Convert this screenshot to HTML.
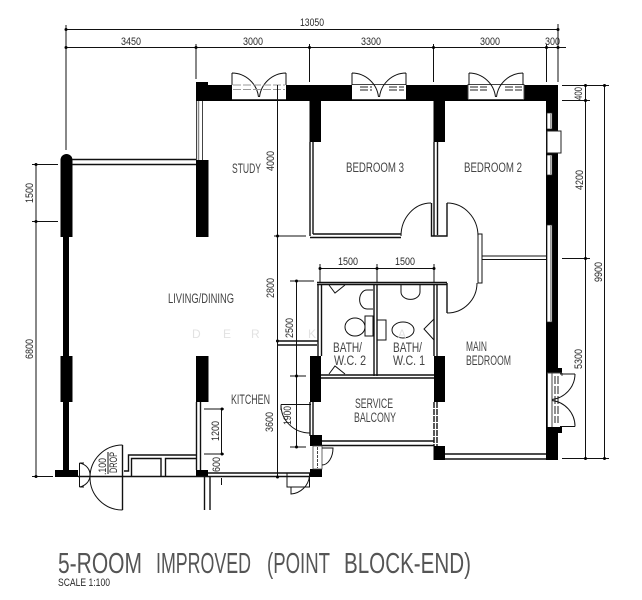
<!DOCTYPE html>
<html>
<head>
<meta charset="utf-8">
<style>
html,body{margin:0;padding:0;background:#fff;width:642px;height:600px;overflow:hidden}
svg{display:block;filter:blur(0.35px)}
text{font-family:"Liberation Sans",sans-serif;fill:#2a2a2a}
.l{stroke:#111;stroke-width:1;fill:none}
.m{stroke:#111;stroke-width:1.4;fill:none}
.g{stroke:#444;stroke-width:1;fill:none}
.b{fill:#000}
.w{fill:#fff;stroke:#222;stroke-width:1}
.t text{fill:#444}
</style>
</head>
<body>
<svg width="642" height="600" viewBox="0 0 642 600" xmlns="http://www.w3.org/2000/svg">
<!-- top dims -->
<path class="l" d="M66 29.5H558M66 47.5H566M66 25V150M196 44V79M309.5 44V82M433.5 44V82M546.5 44V82M558 24V82"/>
<g class="b"><circle cx="66" cy="29.5" r="1.5"/><circle cx="66" cy="47.5" r="1.5"/><circle cx="196" cy="47.5" r="1.5"/><circle cx="309.5" cy="47.5" r="1.5"/><circle cx="433.5" cy="47.5" r="1.5"/><circle cx="546.5" cy="47.5" r="1.5"/><circle cx="558" cy="47.5" r="1.5"/><circle cx="558" cy="29.5" r="1.5"/></g>
<g font-size="11">
<text x="300" y="26" textLength="24" lengthAdjust="spacingAndGlyphs">13050</text>
<text x="121" y="45" textLength="20" lengthAdjust="spacingAndGlyphs">3450</text>
<text x="243" y="45" textLength="20" lengthAdjust="spacingAndGlyphs">3000</text>
<text x="361" y="45" textLength="20" lengthAdjust="spacingAndGlyphs">3300</text>
<text x="480" y="45" textLength="20" lengthAdjust="spacingAndGlyphs">3000</text>
<text x="545" y="45" textLength="15" lengthAdjust="spacingAndGlyphs">300</text>
</g>

<!-- top wall -->
<rect class="b" x="196" y="85" width="362" height="16"/>
<rect class="b" x="196" y="82" width="12" height="4"/>
<!-- windows -->
<g>
<rect x="232" y="84" width="54" height="15" fill="#fff"/>
<path class="g" d="M232 99.5H286"/>
<path class="l" d="M232 73V85M286 73V85M232 73A27 27 0 0 1 258.5 97M286 73A27 27 0 0 0 259.5 97"/>
<path stroke="#999" stroke-width="1" stroke-dasharray="8 2" fill="none" d="M233 85H285M233 89.5H285"/>
</g>
<g>
<rect x="352" y="84" width="54" height="15" fill="#fff"/>
<path class="g" d="M352 84.5H406M352 99.5H406"/>
<path class="l" d="M352 73V85M406 73V85M352 73A27 27 0 0 1 378.5 97M406 73A27 27 0 0 0 379.5 97"/>
<path stroke="#222" stroke-width="1" stroke-dasharray="8 2" fill="none" d="M360 87H372M389 87H404M360 90H372M389 90H404"/>
</g>
<g>
<rect x="468" y="84" width="56" height="15" fill="#fff"/>
<path class="g" d="M468 84.5H524M468 99.5H524M468 84V99M524 84V99"/>
<path class="l" d="M469 73V85M523 73V85M469 73A27 27 0 0 1 495.5 97M523 73A27 27 0 0 0 496.5 97"/>
<path stroke="#222" stroke-width="1" stroke-dasharray="8 2" fill="none" d="M470 87H487M505 87H522M470 90H487M505 90H522"/>
</g>

<!-- right wall -->
<rect class="b" x="546" y="85" width="12" height="375"/>
<rect x="547" y="113" width="5" height="16" fill="#fff" stroke="#222" stroke-width="0.7"/>
<path stroke="#999" d="M550.5 113V129M550.5 155V175M550.5 225V322" fill="none"/>
<rect x="547" y="131" width="14" height="22" class="w"/>
<rect x="547" y="155" width="5" height="20" fill="#fff" stroke="#222" stroke-width="0.7"/>
<path stroke="#999" d="M550.5 155V175" fill="none"/>
<rect x="547" y="225" width="5" height="97" fill="#fff" stroke="#222" stroke-width="0.7"/>
<path stroke="#999" d="M550.5 225V322" fill="none"/>
<rect class="b" x="546" y="368" width="16" height="8"/>
<rect class="b" x="546" y="426" width="16" height="7"/>
<rect x="547" y="373" width="15" height="54" fill="#fff"/>
<path class="g" d="M547.5 373V427M552 373V427M562 373V376M547 373H562"/>
<path stroke="#222" stroke-width="1" stroke-dasharray="8 2" fill="none" d="M555 376V423M558 376V423"/>
<path class="l" d="M560 374H575M560 426.5H575M575 374A26 26 0 0 1 552 399.5M575 426.5A26 26 0 0 0 552 400.5"/>

<!-- left column and rail -->
<path class="b" d="M60.5 237V160A6 6 0 0 1 72.5 160V237Z"/>
<rect class="b" x="63" y="237" width="6" height="235"/>
<rect class="b" x="60.5" y="356" width="12" height="46"/>
<rect class="b" x="55" y="470" width="23" height="7"/>
<path class="m" d="M72 159.5H196M72 164.5H196"/>

<!-- study left wall -->
<path class="g" d="M196.5 101V160M202.5 101V160" stroke-width="1.5"/>
<path stroke="#888" stroke-width="1.5" d="M198.5 101V160" fill="none"/>
<rect class="b" x="196" y="160" width="12.5" height="77"/>
<rect class="b" x="196" y="356" width="12.5" height="46"/>
<path class="m" d="M196.5 402V470M200.5 402V470"/>
<rect class="b" x="196" y="470" width="12" height="7"/>

<!-- shelves and bottom -->
<path class="m" d="M124 471H128.5V455H196"/>
<path class="m" d="M131.5 476V458.5H161V476M165.5 476V458.5H196"/>
<path class="m" d="M78 476.5H310M208 473H310"/>
<path class="m" d="M204.5 477V510M210 477V510"/>

<!-- entry door -->
<path class="m" d="M122.5 445V510"/>
<path class="l" d="M122.5 445A32.5 32.5 0 0 0 122.5 510"/>
<path class="l" d="M79.5 463V487M79.5 463A13 12 0 0 1 90 476M79.5 487A13 12 0 0 0 90 476M79.5 463H84M79.5 487H84"/>
<text transform="translate(106 475) rotate(-90)" font-size="11" textLength="17" lengthAdjust="spacingAndGlyphs">.100</text>
<text transform="translate(117 473) rotate(-90)" font-size="11" textLength="21" lengthAdjust="spacingAndGlyphs">DROP</text>
<path class="l" d="M108 452V474"/>

<!-- study/living dims -->
<path class="l" d="M277.5 85V477"/>
<path class="l" d="M274 236H306M296.5 281V447M290 281H314M290 376H306M290 447H306"/>
<g class="b"><circle cx="277.5" cy="236" r="1.5"/><circle cx="277.5" cy="341" r="1.5"/><circle cx="277.5" cy="477" r="1.5"/><circle cx="296.5" cy="281" r="1.5"/><circle cx="296.5" cy="376" r="1.5"/><circle cx="296.5" cy="447" r="1.5"/></g>
<path class="m" d="M277 341H318M277 345H317"/>
<g font-size="11">
<text transform="translate(274 171) rotate(-90)" textLength="20" lengthAdjust="spacingAndGlyphs">4000</text>
<text transform="translate(274 298) rotate(-90)" textLength="20" lengthAdjust="spacingAndGlyphs">2800</text>
<text transform="translate(273 432) rotate(-90)" textLength="20" lengthAdjust="spacingAndGlyphs">3600</text>
<text transform="translate(293 338) rotate(-90)" textLength="20" lengthAdjust="spacingAndGlyphs">2500</text>
<text transform="translate(291 425) rotate(-90)" textLength="19" lengthAdjust="spacingAndGlyphs">1900</text>
<text transform="translate(219 441) rotate(-90)" textLength="20" lengthAdjust="spacingAndGlyphs">1200</text>
<text transform="translate(220 472) rotate(-90)" textLength="15" lengthAdjust="spacingAndGlyphs">600</text>
</g>
<path class="l" d="M204 409H224M221.5 409V454M204 454H224M221.5 478V485"/>
<g class="b"><circle cx="222" cy="409" r="1.5"/><circle cx="222" cy="454" r="1.5"/></g>

<!-- left dims -->
<path class="l" d="M36 164V476M32 164.5H58M32 221.5H58M32 476.5H53"/>
<g class="b"><circle cx="36" cy="164.5" r="1.5"/><circle cx="36" cy="221.5" r="1.5"/><circle cx="36" cy="476.5" r="1.5"/></g>
<text transform="translate(33 203) rotate(-90)" font-size="11" textLength="20" lengthAdjust="spacingAndGlyphs">1500</text>
<text transform="translate(33 359) rotate(-90)" font-size="11" textLength="20" lengthAdjust="spacingAndGlyphs">6800</text>

<!-- right dims -->
<path class="l" d="M585.5 85V458M604.5 85V458M562 85.5H609M562 100.5H590M562 258.5H590M562 458.5H609"/>
<g class="b"><circle cx="585.5" cy="85.5" r="1.5"/><circle cx="604.5" cy="85.5" r="1.5"/><circle cx="585.5" cy="100.5" r="1.5"/><circle cx="585.5" cy="258.5" r="1.5"/><circle cx="585.5" cy="458.5" r="1.5"/><circle cx="604.5" cy="458.5" r="1.5"/></g>
<g font-size="11">
<text transform="translate(582 100) rotate(-90)" textLength="13" lengthAdjust="spacingAndGlyphs">400</text>
<text transform="translate(583 190) rotate(-90)" textLength="20" lengthAdjust="spacingAndGlyphs">4200</text>
<text transform="translate(602 282) rotate(-90)" textLength="20" lengthAdjust="spacingAndGlyphs">9900</text>
<text transform="translate(582 369) rotate(-90)" textLength="20" lengthAdjust="spacingAndGlyphs">5300</text>
</g>

<!-- bedroom walls -->
<rect class="b" x="309.5" y="101" width="11.5" height="41"/>
<rect class="b" x="433.5" y="101" width="11.5" height="41"/>
<path class="m" d="M310 142V236M313 142V234"/>
<path class="m" d="M310 237.5H401M313 234H401"/>
<path class="m" d="M434 142V236M437.5 142V235"/>
<path class="m" d="M431.5 203V236H447V203"/>
<path class="l" d="M401 236A30 33 0 0 1 431 203M447 203A31 33 0 0 1 478 236"/>
<path class="l" d="M478 234H482V283H478V234M482 256H546M482 259.5H546"/>
<path class="l" d="M447 313A30 30 0 0 0 477 283"/>
<path class="m" d="M447 283V313"/>

<!-- bath block -->
<path class="m" d="M317 282.5H447M317 284.5H447"/>
<path class="m" d="M318 284V356M321.5 284V356"/>
<path class="m" d="M374 284V376M377 284V376"/>
<path class="m" d="M434 284V356M437 284V356"/>
<path class="m" d="M321 375H434M321 378H434"/>
<rect class="b" x="310" y="356" width="11" height="46"/>
<rect class="b" x="434" y="356" width="11" height="46"/>
<path class="l" d="M320 264V283M377 264V283M434 264V283M320 268.5H434"/>
<g class="b"><circle cx="320" cy="268.5" r="1.5"/><circle cx="377" cy="268.5" r="1.5"/><circle cx="434" cy="268.5" r="1.5"/></g>
<text x="338" y="265" font-size="11" textLength="20" lengthAdjust="spacingAndGlyphs">1500</text>
<text x="395" y="265" font-size="11" textLength="20" lengthAdjust="spacingAndGlyphs">1500</text>
<!-- fixtures -->
<path class="l" d="M329 285L335 293L345 285"/>
<path class="l" d="M373 290H367A7 9 0 0 0 367 309H373"/>
<path class="l" d="M401 285V292A9 7 0 0 0 420 292V285"/>
<ellipse class="l" cx="355" cy="327" rx="10" ry="9"/>
<path class="l" d="M365 316H373V336H365Z"/>
<ellipse class="l" cx="403" cy="330" rx="11" ry="8"/>
<path class="l" d="M377 320H386V340H377Z"/>
<path class="l" d="M434 319L424 329L434 340"/>
<path class="l" d="M329 374L335 366L345 374"/>

<!-- service balcony -->
<path class="m" d="M313 402V436M310 402V436"/>
<path class="m" d="M321 441H434M321 445.5H434"/>
<path class="m" d="M434 402V446M437 402V446" stroke-dasharray="6 1"/>
<rect class="b" x="433.5" y="446" width="11.5" height="14"/>
<path class="m" d="M445 454H546M445 459H546"/>
<rect class="b" x="310" y="435" width="12" height="11"/>
<rect class="b" x="310" y="469" width="12" height="8"/>
<rect x="313" y="446" width="9" height="23" fill="#fff" stroke="#444" stroke-width="0.8"/>
<path stroke="#444" stroke-width="1" stroke-dasharray="3 1" d="M317.5 447V468" fill="none"/>
<path class="l" d="M322 448H333A11 17 0 0 1 322 465"/>
<path class="l" d="M287 473V487H309.5V473M291 487V494A20 20 0 0 0 309.5 476"/>

<!-- kitchen door arc -->
<path class="l" d="M281 405A29 28 0 0 0 310 433M281 404.5H311M281 404.5V410"/>

<!-- labels -->
<g font-size="13.5" class="t">
<text x="232" y="173" textLength="29" lengthAdjust="spacingAndGlyphs">STUDY</text>
<text x="346" y="172" textLength="58" lengthAdjust="spacingAndGlyphs">BEDROOM 3</text>
<text x="464" y="172" textLength="58" lengthAdjust="spacingAndGlyphs">BEDROOM 2</text>
<text x="168" y="303" textLength="66" lengthAdjust="spacingAndGlyphs">LIVING/DINING</text>
<text x="231" y="404" textLength="39" lengthAdjust="spacingAndGlyphs">KITCHEN</text>
<text x="333" y="352" textLength="29" lengthAdjust="spacingAndGlyphs">BATH/</text>
<text x="334" y="365" textLength="32" lengthAdjust="spacingAndGlyphs">W.C. 2</text>
<text x="393" y="352" textLength="29" lengthAdjust="spacingAndGlyphs">BATH/</text>
<text x="393" y="365" textLength="32" lengthAdjust="spacingAndGlyphs">W.C. 1</text>
<text x="466" y="351" textLength="21" lengthAdjust="spacingAndGlyphs">MAIN</text>
<text x="466" y="365" textLength="45" lengthAdjust="spacingAndGlyphs">BEDROOM</text>
<text x="355" y="408" textLength="38" lengthAdjust="spacingAndGlyphs">SERVICE</text>
<text x="354" y="422" textLength="42" lengthAdjust="spacingAndGlyphs">BALCONY</text>
</g>
<!-- watermark -->
<g font-size="12">
<text x="192" y="338" style="fill:#e2e2e2">D</text>
<text x="223" y="338" style="fill:#e2e2e2">E</text>
<text x="251" y="338" style="fill:#e2e2e2">R</text>
<text x="308" y="338" style="fill:#e2e2e2">K</text>
<text x="398" y="338" style="fill:#e2e2e2">A</text>
</g>
<!-- title -->
<g font-size="29" style="font-weight:normal">
<text x="58" y="573" textLength="84" lengthAdjust="spacingAndGlyphs" style="fill:#555">5-ROOM</text>
<text x="156" y="573" textLength="95" lengthAdjust="spacingAndGlyphs" style="fill:#555">IMPROVED</text>
<text x="267" y="573" textLength="63" lengthAdjust="spacingAndGlyphs" style="fill:#555">(POINT</text>
<text x="344" y="573" textLength="127" lengthAdjust="spacingAndGlyphs" style="fill:#555">BLOCK-END)</text>
</g>
<text x="58" y="586" font-size="11" textLength="52" lengthAdjust="spacingAndGlyphs">SCALE 1:100</text>
</svg>
</body>
</html>
